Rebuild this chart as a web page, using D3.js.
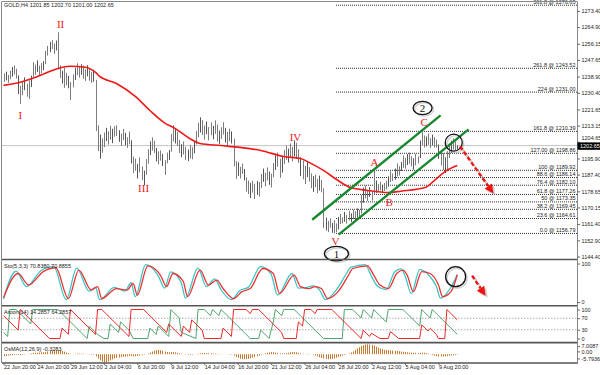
<!DOCTYPE html>
<html lang="en">
<head>
<meta charset="UTF-8">
<title>GOLD,H4</title>
<script src="https://d3js.org/d3.v7.min.js"></script>
<style>
  body { margin: 0; background: #fff; }
  svg { display: block; font-family: "Liberation Sans", Arial, sans-serif; }
  .lbl { font-size: 5.5px; fill: #222; }
  .wave { font-family: "Liberation Serif", "Times New Roman", serif; font-size: 11px; fill: #f01818; }
  .num { font-family: "Liberation Serif", "Times New Roman", serif; font-size: 11px; fill: #111; }
</style>
</head>
<body>
<svg id="chart" width="600" height="375"></svg>
<script>
// ---- data ----
const barHigh = [
  1240.6,1241.5,1239.8,1242.0,1243.9,1244.8,1243.0,1239.5,1234.0,1236.2,
  1238.5,1235.1,1236.8,1239.4,1246.4,1245.2,1247.4,1244.6,1246.0,1247.0,
  1252.4,1255.0,1257.1,1258.0,1256.3,1257.8,1262.2,1244.8,1242.0,1243.6,
  1240.9,1239.2,1236.0,1240.0,1243.5,1245.9,1244.0,1245.4,1244.7,1242.6,
  1244.9,1243.1,1241.2,1242.5,1237.2,1213.3,1208.4,1206.5,1209.5,1212.0,
  1210.2,1213.1,1211.5,1212.8,1213.3,1210.7,1208.9,1211.4,1209.3,1207.0,
  1210.0,1205.4,1196.9,1195.8,1193.0,1196.4,1191.7,1189.5,1195.6,1200.8,
  1204.9,1207.0,1205.2,1201.4,1199.6,1200.1,1198.3,1195.0,1199.0,1200.4,
  1208.8,1213.3,1211.7,1209.9,1205.6,1203.4,1204.8,1202.1,1200.6,1203.0,
  1201.8,1205.0,1210.3,1214.6,1217.5,1216.0,1213.2,1215.3,1212.4,1214.8,
  1213.0,1215.9,1213.7,1210.6,1212.3,1214.9,1212.0,1209.8,1211.6,1210.1,
  1206.3,1194.5,1193.8,1191.5,1193.2,1190.4,1186.0,1184.3,1183.0,1184.1,
  1182.6,1184.0,1183.5,1187.7,1190.6,1188.4,1191.2,1189.0,1187.9,1193.5,
  1197.6,1199.0,1195.8,1197.2,1200.4,1202.6,1201.1,1203.8,1202.0,1205.4,
  1204.1,1200.7,1196.5,1194.8,1192.0,1193.9,1191.3,1188.0,1186.6,1187.4,
  1185.2,1186.9,1184.5,1180.2,1164.9,1163.1,1164.4,1162.0,1163.5,1161.8,
  1165.2,1166.7,1165.0,1167.8,1166.3,1168.4,1167.1,1169.0,1168.2,1169.6,
  1168.9,1176.8,1180.6,1181.7,1179.4,1180.8,1178.6,1190.0,1184.3,1182.5,
  1183.7,1181.9,1183.0,1184.2,1186.5,1189.1,1188.0,1190.6,1193.3,1191.8,
  1194.0,1197.5,1196.3,1198.2,1199.0,1197.1,1196.0,1198.3,1197.0,1205.3,
  1209.6,1208.0,1207.4,1209.0,1206.6,1208.4,1207.1,1205.8,1203.2,1200.4,
  1198.8,1196.5,1199.7,1203.0,1205.2,1206.4,1204.9,1202.7];
const barLow = [
  1236.4,1237.2,1235.9,1237.8,1239.1,1240.3,1238.2,1230.0,1224.8,1229.4,
  1232.0,1228.6,1227.5,1233.7,1239.0,1240.1,1241.6,1239.6,1241.0,1242.5,
  1245.8,1250.2,1252.0,1253.6,1251.1,1252.9,1243.0,1238.4,1235.5,1233.2,
  1234.6,1233.0,1226.9,1233.5,1237.4,1239.8,1238.6,1240.1,1238.0,1236.9,
  1239.3,1237.0,1235.9,1236.4,1210.6,1200.0,1196.0,1199.2,1202.1,1205.3,
  1203.4,1206.0,1204.2,1207.6,1208.0,1204.9,1202.7,1205.8,1203.0,1201.7,
  1203.6,1193.5,1188.5,1189.7,1185.6,1188.8,1184.9,1182.2,1187.6,1193.4,
  1198.0,1200.3,1199.1,1194.6,1193.1,1195.0,1192.2,1187.5,1193.6,1195.3,
  1199.7,1205.1,1204.0,1202.7,1199.0,1196.8,1198.2,1195.4,1194.8,1196.1,
  1195.7,1198.9,1203.5,1207.2,1209.8,1208.4,1206.1,1208.9,1205.7,1208.3,
  1206.2,1209.1,1205.0,1203.9,1206.4,1208.7,1204.5,1202.7,1205.2,1204.0,
  1192.0,1185.4,1187.0,1185.6,1188.1,1184.6,1178.8,1177.5,1175.4,1178.2,
  1174.9,1177.0,1176.1,1180.6,1183.9,1181.5,1184.6,1182.3,1180.9,1186.2,
  1190.1,1191.8,1186.0,1188.7,1193.3,1195.5,1194.0,1196.7,1194.6,1197.3,
  1195.9,1193.8,1186.9,1185.2,1182.7,1186.4,1184.0,1180.5,1178.6,1181.2,
  1178.0,1179.3,1178.4,1159.6,1158.3,1157.5,1159.8,1157.1,1156.8,1157.4,
  1158.9,1161.7,1162.1,1162.9,1161.9,1163.6,1162.8,1164.3,1163.0,1165.1,
  1164.6,1167.2,1172.9,1175.2,1173.8,1175.9,1174.0,1177.3,1178.0,1178.6,
  1179.4,1178.2,1179.1,1180.0,1181.3,1183.7,1184.3,1185.0,1186.7,1187.2,
  1189.6,1191.2,1190.8,1192.7,1193.4,1192.0,1190.3,1192.5,1193.6,1196.4,
  1203.1,1201.9,1202.5,1203.3,1201.7,1203.0,1202.0,1201.9,1196.0,1192.5,
  1190.1,1188.5,1189.4,1196.4,1199.0,1200.8,1200.3,1201.0];
const lastClose = 1202.65;

// moving average (red), knots [bar, price]
const maLine = [[0,1234.3],[8,1235.9],[14,1238.0],[20,1240.6],[26,1243.2],[32,1244.3],[39,1243.8],
  [44,1241.1],[46,1239.0],[54,1235.3],[63,1228.5],[70,1221.1],[77,1214.6],[82,1211.7],[89,1206.4],
  [94,1203.8],[104,1202.7],[113,1201.7],[123,1200.1],[134,1196.9],[142,1195.9],[147,1193.3],
  [153,1189.6],[160,1184.3],[166,1180.6],[174,1179.1],[184,1178.0],[190,1178.7],[202,1180.8],
  [206,1184.3],[212,1189.6],[217,1192.2]];

const priceTicks = ["1273.40","1264.90","1256.15","1247.65","1238.90","1230.40","1221.65","1213.15",
  "1204.65","1195.90","1187.40","1178.65","1170.15","1161.40","1152.90","1144.40"];
const dateLabels = ["22 Jun 20:00","24 Jun 20:00","29 Jun 12:00","2 Jul 04:00","6 Jul 20:00","9 Jul 12:00",
  "14 Jul 04:00","16 Jul 20:00","21 Jul 12:00","26 Jul 04:00","28 Jul 20:00","2 Aug 12:00","5 Aug 04:00","9 Aug 20:00"];
const dateBars = [0,16,32,48,64,80,96,112,128,144,160,176,192,208];

// fibonacci expansion
const fibStart = 159;
const fibPrices = [1156.79,1164.61,1169.45,1173.35,1177.26,1182.10,1186.14,1189.92,1198.86,1210.39,1231.00,1243.52,1276.65];
const fibTexts = ["0.0 @ 1156.79","23.6 @ 1164.61","38.2 @ 1169.45","50 @ 1173.35","61.8 @ 1177.26","76.4 @ 1182.10",
  "88.6 @ 1186.14","100 @ 1189.92","127.00 @ 1198.86","161.8 @ 1210.39","224 @ 1231.00","261.8 @ 1243.52","361.8 @ 1276.65"];

// channel lines [bar, price] -> [bar, price]
const channels = [[[147.6,1163.7],[209,1218.5]], [[160.2,1155.9],[222.4,1211.2]]];

// wave labels
const waveText = ["I","II","III","IV","V","A","B","C"];
const waveBar = [8.1,27.3,67,139.6,158.8,177.4,184.4,201.2];
const wavePrice = [1218.5,1266.4,1180.4,1207.2,1152.5,1194.1,1172.8,1215.3];
const countText = ["1","2"];
const countBar = [159.2,200.4];
const countPrice = [1145.9,1222.4];

// stochastic (5,3,3): knots [bar, value]
const stoMain = [[0,8],[6,80],[11,40],[18,82],[24,92],[30,6],[35,88],[41,28],[44,38],[46,6],[53,38],[58,28],
  [61,50],[63,14],[68,97],[74,68],[77,36],[80,78],[85,50],[87,10],[93,88],[97,40],[101,60],[104,32],[109,6],
  [113,30],[117,38],[123,92],[128,72],[131,18],[138,74],[141,36],[145,38],[148,42],[151,32],[154,6],[159,30],
  [164,74],[166,90],[173,97],[176,66],[179,40],[183,32],[187,78],[190,86],[192,68],[195,22],[199,84],[203,72],
  [207,40],[209,10],[213,30],[217,70.838]];
const stoSignal = [[0,11],[7,74],[12,44],[19,79],[25,89],[31,9],[36,83],[42,31],[45,40],[47,9],[54,35],[59,31],
  [62,48],[64,18],[69,94],[75,70],[78,40],[81,74],[86,53],[88,14],[94,83],[98,44],[102,57],[105,35],[110,9],
  [114,27],[118,35],[124,87],[129,74],[132,22],[139,70],[142,40],[146,35],[149,40],[152,35],[155,9],[160,27],
  [165,70],[167,87],[174,94],[177,70],[180,44],[184,35],[188,74],[191,83],[193,70],[196,27],[200,79],[204,74],
  [208,44],[210,14],[214,27],[217,70.886]];

// aroon (14): corners [bar, value]
const aroonUp = [[0,21],[2,7],[3,100],[6,100],[8,86],[13,50],[14,100],[26,100],[40,0],[41,43],[45,14],[48,0],
  [50,0],[51,50],[55,21],[56,57],[60,29],[62,0],[69,0],[70,36],[73,14],[74,43],[79,7],[80,100],[84,71],[85,21],
  [92,0],[93,100],[96,100],[99,79],[100,100],[103,79],[104,100],[118,0],[122,0],[123,29],[127,0],[129,57],
  [130,100],[133,79],[134,100],[139,100],[153,0],[162,0],[163,100],[167,100],[171,71],[172,100],[176,71],
  [177,100],[183,57],[184,100],[191,100],[199,43],[200,100],[204,71],[205,100],[217,14.29]];
const aroonDown = [[0,79],[7,29],[8,100],[22,0],[27,0],[28,36],[31,14],[32,100],[44,14],[45,100],[47,100],
  [60,7],[61,100],[67,100],[78,21],[79,50],[85,7],[86,43],[89,21],[90,64],[95,29],[96,0],[104,0],[105,36],
  [109,7],[110,100],[116,100],[118,86],[119,100],[122,100],[133,21],[134,0],[140,0],[141,57],[143,43],[144,100],
  [147,100],[149,86],[150,100],[157,100],[171,0],[172,29],[175,7],[176,18],[180,0],[184,0],[185,24],[189,0],
  [193,0],[199,0],[200,47],[203,26],[204,35],[207,14],[208,0],[211,0],[212,100],[217,64.29]];

// OsMA (12,26,9), one value per bar
const osma = [
  -1.4,-1.2,-1.0,-0.8,-0.7,-0.6,-0.5,-0.6,-0.8,
  -0.5,-0.2,0.1,0.3,0.5,0.8,1.0,1.1,1.2,1.3,1.4,
  1.6,1.9,2.2,2.4,2.6,2.8,2.9,2.7,2.3,1.8,1.3,
  0.8,0.3,0.1,0.2,0.4,0.5,0.4,0.3,0.1,-0.1,-0.2,-0.3,-0.4,
  -1.5,-3.0,-4.3,-5.2,-5.79,-5.5,-5.0,-4.3,-3.6,
  -3.0,-2.6,-2.3,-2.0,-1.8,-1.6,-1.4,-1.2,-1.3,-1.6,
  -1.5,-1.3,-1.0,-0.6,-0.3,0.1,
  0.6,1.2,1.9,2.5,2.9,3.0,2.8,2.4,1.9,1.5,
  1.4,1.5,1.6,1.3,1.0,0.7,0.3,
  0.0,-0.2,-0.4,-0.5,-0.3,-0.1,0.2,0.4,
  0.6,0.8,0.9,0.8,0.7,0.6,0.5,0.4,
  0.3,0.2,0.1,0.1,0.0,-0.1,-0.2,-0.3,
  -1.0,-1.9,-2.6,-3.1,-3.4,-3.5,-3.4,-3.2,-2.8,-2.4,-1.9,
  -1.4,-0.9,-0.4,0.1,
  0.6,1.0,1.3,1.5,1.4,1.2,0.9,
  0.6,0.5,0.6,0.8,1.0,
  1.3,1.5,1.6,1.4,1.0,0.6,
  0.3,0.2,0.3,0.2,0.0,-0.4,
  -0.9,-1.5,-2.1,-2.6,-3.1,-3.4,-3.5,-3.4,-3.2,-2.9,-2.5,-2.0,-1.5,-1.0,-0.5,
  -0.1,0.5,1.2,2.0,
  3.0,4.0,4.9,5.7,6.3,6.8,7.0,6.9,6.5,6.0,5.3,4.6,
  4.0,3.5,3.1,2.9,2.7,2.6,2.5,2.4,2.3,2.1,1.9,
  1.7,1.5,1.3,1.2,1.1,1.0,0.9,0.9,1.0,1.1,1.0,0.7,0.3,
  -0.2,-0.6,-1.0,-1.3,-1.5,-1.6,-1.6,-1.5,-1.3,
  -1.1,-0.9,-0.7,-0.5,-0.33];

// annotations: circles and arrows
const priceCircle = [215.3, 1204.2];
const stoCircle = [216.2, 65.7];
const priceArrow = [[218.3,1202.2],[234.3,1177.5]];
const stoArrow = [[224.1,68.3],[230.5,16.4]];

// ---- layout ----
const W = 600, H = 375;
const left = 2, axisX = 577;
const panels = { main: [2, 259.5], sto: [259.5, 305.8], aroon: [305.8, 342.6], osma: [342.6, 363] };

const svg = d3.select('#chart');

const x = d3.scaleLinear().domain([0, 217]).range([3.5, 457.3]);
const yMain = d3.scaleLinear().domain([1144.40, 1273.40]).range([256.5, 10.9]);
const ySto = d3.scaleLinear().domain([0, 100]).range([302, 263.5]);
const yAr = d3.scaleLinear().domain([0, 100]).range([338.5, 309.5]);
const yOs = d3.scaleLinear().domain([-5.7936, 7.0087]).range([362.5, 344.2]);

svg.append('defs').append('clipPath').attr('id', 'clipMain')
  .append('rect').attr('x', left).attr('y', 2).attr('width', axisX - left).attr('height', 257);

const main = svg.append('g').attr('clip-path', 'url(#clipMain)');

// current price line
main.append('line')
  .attr('x1', left).attr('x2', axisX)
  .attr('y1', yMain(lastClose)).attr('y2', yMain(lastClose))
  .attr('stroke', '#c4c4c4').attr('stroke-width', 1);

// fib levels
main.selectAll('.fib').data(fibPrices).enter().append('line')
  .attr('x1', x(fibStart)).attr('x2', axisX)
  .attr('y1', d => yMain(d) + 0.5).attr('y2', d => yMain(d) + 0.5)
  .attr('stroke', '#333').attr('stroke-width', 1).attr('stroke-dasharray', '1,1');
svg.selectAll('.fibt').data(fibTexts).enter().append('text')
  .attr('class', 'lbl')
  .attr('x', axisX - 1.5).attr('y', (d, i) => yMain(fibPrices[i]) - 1)
  .attr('text-anchor', 'end').text(d => d);

// price bars
main.selectAll('.bar').data(barHigh).enter().append('line')
  .attr('x1', (d, i) => Math.round(x(i)) + 0.5).attr('x2', (d, i) => Math.round(x(i)) + 0.5)
  .attr('y1', d => yMain(d)).attr('y2', (d, i) => yMain(barLow[i]) + 0.5)
  .attr('stroke', (d, i) => i % 3 === 1 ? '#555' : '#7c7c7c').attr('stroke-width', 1);

// moving average
main.append('path')
  .attr('d', d3.line().x(d => x(d[0])).y(d => yMain(d[1])).curve(d3.curveMonotoneX)(maLine))
  .attr('fill', 'none').attr('stroke', '#f01818').attr('stroke-width', 1.6);

// channel
channels.forEach(c => {
  main.append('line')
    .attr('x1', x(c[0][0])).attr('y1', yMain(c[0][1]))
    .attr('x2', x(c[1][0])).attr('y2', yMain(c[1][1]))
    .attr('stroke', '#17882f').attr('stroke-width', 2.4);
});

// wave labels
svg.selectAll('.wave').data(waveText).enter().append('text')
  .attr('class', 'wave')
  .attr('x', (d, i) => x(waveBar[i])).attr('y', (d, i) => yMain(wavePrice[i]))
  .attr('text-anchor', 'middle').attr('dominant-baseline', 'central').text(d => d);

// count ellipses
countText.forEach((t, i) => {
  const cx = x(countBar[i]), cy = yMain(countPrice[i]);
  const rx = i === 0 ? 12 : 9.5, ry = i === 0 ? 7.2 : 6.6;
  svg.append('ellipse').attr('cx', cx + 1.5).attr('cy', cy + 1.5).attr('rx', rx).attr('ry', ry)
    .attr('fill', 'none').attr('stroke', '#999').attr('stroke-width', 1.4).attr('opacity', 0.45);
  svg.append('ellipse').attr('cx', cx).attr('cy', cy).attr('rx', rx).attr('ry', ry)
    .attr('fill', 'none').attr('stroke', '#111').attr('stroke-width', 1.3);
  svg.append('text').attr('class', 'num').attr('x', cx).attr('y', cy + 0.5)
    .attr('text-anchor', 'middle').attr('dominant-baseline', 'central').text(t);
});

function circleAt(cx, cy, r) {
  svg.append('circle').attr('cx', cx + 1.5).attr('cy', cy + 1.5).attr('r', r)
    .attr('fill', 'none').attr('stroke', '#999').attr('stroke-width', 1.4).attr('opacity', 0.45);
  svg.append('circle').attr('cx', cx).attr('cy', cy).attr('r', r)
    .attr('fill', 'none').attr('stroke', '#111').attr('stroke-width', 1.3);
}
function arrow(p0, p1) {
  const dx = p1[0] - p0[0], dy = p1[1] - p0[1], len = Math.hypot(dx, dy);
  const ux = dx / len, uy = dy / len, hl = 9, hw = 4.5;
  const bx = p1[0] - ux * hl, by = p1[1] - uy * hl;
  const head = [[p1[0], p1[1]], [bx - uy * hw, by + ux * hw], [bx + uy * hw, by - ux * hw]];
  [['#888', 0.4, 2], ['#f01010', 1, 0]].forEach(([col, op, off]) => {
    const g = svg.append('g').attr('transform', `translate(${off},${off})`).attr('opacity', op);
    g.append('line').attr('x1', p0[0]).attr('y1', p0[1]).attr('x2', bx).attr('y2', by)
      .attr('stroke', col).attr('stroke-width', 2.4).attr('stroke-dasharray', '4,2.5');
    g.append('polygon').attr('points', head.map(p => p.join(',')).join(' ')).attr('fill', col);
  });
}
circleAt(x(priceCircle[0]), yMain(priceCircle[1]), 8.5);
arrow([x(priceArrow[0][0]), yMain(priceArrow[0][1])], [x(priceArrow[1][0]), yMain(priceArrow[1][1])]);

// ---- stochastic ----
const stoLine = d3.line().x(d => x(d[0])).y(d => ySto(d[1])).curve(d3.curveMonotoneX);
svg.append('path').attr('d', stoLine(stoMain)).attr('fill', 'none').attr('stroke', '#3cc6c6').attr('stroke-width', 1.3);
svg.append('path').attr('d', stoLine(stoSignal)).attr('fill', 'none').attr('stroke', '#f03030').attr('stroke-width', 1.3);
circleAt(x(stoCircle[0]), ySto(stoCircle[1]), 10);
arrow([x(stoArrow[0][0]), ySto(stoArrow[0][1])], [x(stoArrow[1][0]), ySto(stoArrow[1][1])]);

// ---- aroon ----
[70, 30].forEach(v => {
  svg.append('line').attr('x1', left).attr('x2', axisX).attr('y1', yAr(v)).attr('y2', yAr(v))
    .attr('stroke', '#aaa').attr('stroke-dasharray', '1.5,1.5');
});
const arLine = d3.line().x(d => x(d[0])).y(d => yAr(d[1]));
svg.append('path').attr('d', arLine(aroonUp)).attr('fill', 'none').attr('stroke', '#4ea56e').attr('stroke-width', 1);
svg.append('path').attr('d', arLine(aroonDown)).attr('fill', 'none').attr('stroke', '#f02828').attr('stroke-width', 1);

// ---- osma ----
svg.selectAll('.os').data(osma).enter().append('line')
  .attr('x1', (d, i) => Math.round(x(i)) + 0.5).attr('x2', (d, i) => Math.round(x(i)) + 0.5)
  .attr('y1', yOs(0)).attr('y2', d => yOs(d))
  .attr('stroke', '#c97a30').attr('stroke-width', 1);

// ---- frame ----
const frame = svg.append('g').attr('stroke', '#555').attr('fill', 'none');
frame.append('line').attr('x1', left).attr('x2', axisX).attr('y1', 1.5).attr('y2', 1.5).attr('stroke', '#888');
frame.append('line').attr('x1', 1.5).attr('x2', 1.5).attr('y1', 1.5).attr('y2', panels.osma[1]).attr('stroke', '#888');
[panels.sto[0], panels.aroon[0], panels.osma[0], panels.osma[1]].forEach(yy => {
  frame.append('line').attr('x1', left).attr('x2', axisX).attr('y1', yy).attr('y2', yy).attr('stroke-width', 1.6);
});
frame.append('line').attr('x1', axisX + 0.5).attr('x2', axisX + 0.5).attr('y1', 1.5).attr('y2', panels.osma[1] + 1)
  .attr('stroke', '#888');

// ---- right axes ----
function rightAxis(scale, values, labels) {
  const g = svg.append('g').attr('transform', `translate(${axisX + 0.5},0)`)
    .call(d3.axisRight(scale).tickValues(values).tickFormat((d, i) => labels[i]).tickSize(2.5).tickPadding(1.5));
  g.select('.domain').remove();
  g.selectAll('line').attr('stroke', '#666');
  g.selectAll('text').attr('class', 'lbl').attr('font-size', null).attr('font-family', null);
  return g;
}
const priceAx = rightAxis(yMain, priceTicks.map(Number), priceTicks);
// the label just above the current-price box sits a little higher, as in MT4
priceAx.selectAll('text').filter(d => Math.abs(yMain(d) - yMain(lastClose)) < 7).attr('dy', '-0.45em');
rightAxis(ySto, [100, 0], ['100', '0']);
rightAxis(yAr, [100, 70, 30, 0], ['100', '70', '30', '0']);
const osAx = rightAxis(yOs, [7.0087, 0, -5.7936], ['7.0087', '0.00', '-5.7936']);
osAx.selectAll('.tick').attr('transform', (d, i) => `translate(0,${[346.7, 351.9, 359][i]})`);

// current price box
svg.append('rect').attr('x', axisX + 0.5).attr('y', yMain(lastClose) - 3.2).attr('width', W - axisX).attr('height', 7.4)
  .attr('fill', '#000');
svg.append('text').attr('class', 'lbl').attr('x', axisX + 3).attr('y', yMain(lastClose) + 0.5)
  .attr('dominant-baseline', 'central').style('fill', '#fff').text(lastClose.toFixed(2));

// ---- time axis ----
const xAx = svg.append('g').attr('transform', `translate(0,${panels.osma[1]})`)
  .call(d3.axisBottom(x).tickValues(dateBars).tickFormat((d, i) => dateLabels[i]).tickSize(2).tickPadding(1));
xAx.select('.domain').remove();
xAx.selectAll('line').attr('stroke', '#666');
xAx.selectAll('text').attr('class', 'lbl').attr('font-size', null).attr('font-family', null)
  .attr('text-anchor', 'start').attr('dy', '0.55em');

// ---- titles ----
const titles = [["GOLD,H4  1201.85 1202.70 1201.00 1202.65", 5.2],
  ["Sto(5,3,3) 70.8380 70.8855", 265.8],
  ["Aroon(14) 14.2857 64.2857", 311.8],
  ["OsMA(12,26,9) -0.3283", 349.4]];
titles.forEach(t => {
  svg.append('text').attr('class', 'lbl').attr('x', 4).attr('y', t[1])
    .attr('dominant-baseline', 'central').text(t[0]);
});
</script>
</body>
</html>
